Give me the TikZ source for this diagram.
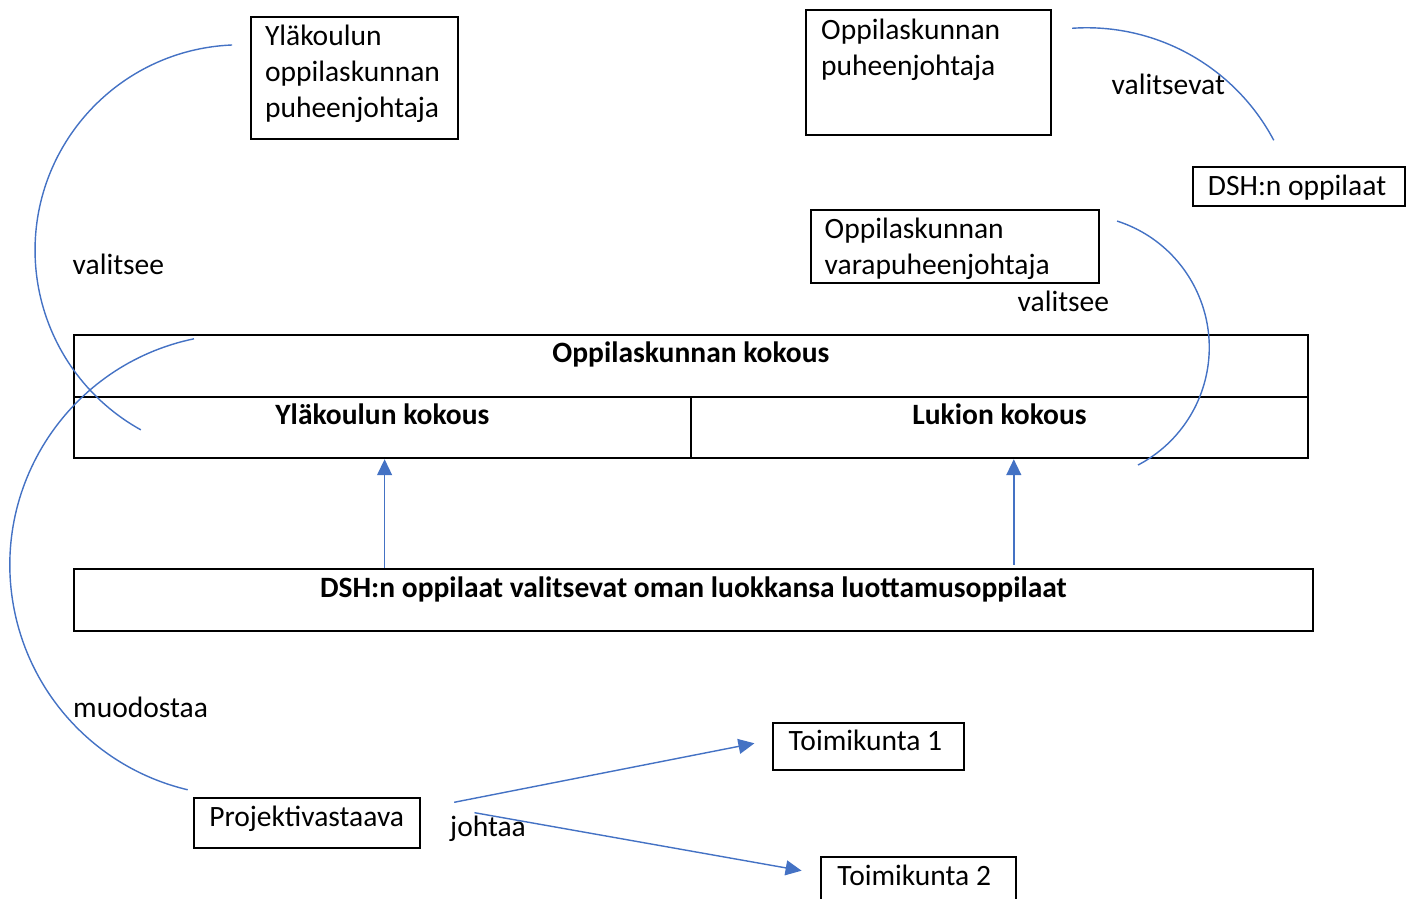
\documentclass[tikz,border=0pt]{standalone}
\usepackage{fontspec}
\setmainfont{Carlito}
\usetikzlibrary{positioning,arrows.meta}
\definecolor{linkblue}{HTML}{4472C4}
\begin{document}
\begin{tikzpicture}[
  every node/.style={font=\fontsize{8.4pt}{10.24pt}\selectfont, inner sep=0pt},
  box/.style={draw, line width=0.55pt, anchor=north west},
  cell/.style={box, font=\fontsize{8.4pt}{10.24pt}\selectfont\bfseries},
  lbl/.style={anchor=base west},
  link/.style={draw=linkblue, line width=0.4pt},
  arr/.style={link, -{Triangle[length=0.16cm,width=0.15cm]}}
]
\useasboundingbox (0,0) rectangle (14.11,-8.99);
\node[box, minimum width=2.073cm, minimum height=1.22cm] (ykpj) at (2.497,-0.157) {};
\node[align=flush left, below right=0.083cm and 0.146cm of ykpj.north west] (ykpjt) {Yläkoulun\\oppilaskunnan\\puheenjohtaja};
\node[box, minimum width=2.45cm, minimum height=1.25cm] (opj) at (8.05,-0.09) {};
\node[align=flush left, below right=0.09cm and 0.155cm of opj.north west] (opjt) {Oppilaskunnan\\puheenjohtaja};
\node[box, minimum width=2.88cm, minimum height=0.73cm] (vpj) at (8.10,-2.09) {};
\node[align=flush left, below right=0.08cm and 0.14cm of vpj.north west] (vpjt) {Oppilaskunnan\\varapuheenjohtaja};
\node[box, text width=1.817cm, align=flush left, inner xsep=0.153cm, text height=0.293cm, text depth=0.10cm] (dsho) at (11.917,-1.657) {DSH:n oppilaat};
\node[cell, minimum width=12.343cm, text height=0.28cm, text depth=0.34cm] (okok) at (0.727,-3.34) {Oppilaskunnan kokous};
\node[cell, minimum width=6.173cm, text height=0.28cm, text depth=0.333cm] (ylk) at (0.727,-3.96) {Yläkoulun kokous};
\node[cell, minimum width=6.17cm, text height=0.28cm, text depth=0.333cm] (luk) at (6.90,-3.96) {Lukion kokous};
\node[cell, minimum width=12.393cm, text height=0.29cm, text depth=0.333cm] (dsh) at (0.727,-5.677) {DSH:n oppilaat valitsevat oman luokkansa luottamusoppilaat};
\node[box, text width=1.593cm, align=flush left, inner xsep=0.16cm, text height=0.283cm, text depth=0.19cm] (tk1) at (7.717,-7.217) {Toimikunta 1};
\node[box, text width=1.62cm, align=flush left, inner xsep=0.165cm, text height=0.293cm, text depth=0.187cm] (tk2) at (8.20,-8.557) {Toimikunta 2};
\node[box, text width=1.957cm, align=flush left, inner xsep=0.15cm, text height=0.29cm, text depth=0.216cm] (proj) at (1.933,-7.967) {Projektivastaava};
\node[lbl] (vs1) at (0.72,-2.75) {valitsee};
\node[lbl] (vsv) at (11.11,-0.95) {valitsevat};
\node[lbl] (vs2) at (10.17,-3.12) {valitsee};
\node[lbl] (muo) at (0.725,-7.175) {muodostaa};
\node[lbl] (joh) at (4.495,-8.37) {johtaa};
\coordinate (c1) at (2.322,-0.45);
\draw[link] (c1) arc[start angle=92.3, end angle=241, radius=2.054];
\coordinate (c2) at (1.94,-3.388);
\draw[link] (c2) arc[start angle=101.7, end angle=256.7, radius=2.31];
\coordinate (c3) at (10.721,-0.283);
\draw[link] (c3) arc[start angle=94, end angle=27.9, radius=2.115];
\coordinate (c4) at (11.171,-2.211);
\draw[link] (c4) arc[start angle=72.2, end angle=-62.4, radius=1.327];
\coordinate (a1) at (3.846,-5.677);
\draw[arr] (a1) -- (a1 |- ylk.south);
\coordinate (a2) at (10.138,-5.65);
\draw[arr] (a2) -- (a2 |- luk.south);
\coordinate (a3) at (4.542,-8.023);
\coordinate (a3e) at (7.544,-7.433);
\draw[arr] (a3) -- (a3e);
\coordinate (a4) at (4.745,-8.127);
\coordinate (a4e) at (8.016,-8.707);
\draw[arr] (a4) -- (a4e);
\end{tikzpicture}
\end{document}
